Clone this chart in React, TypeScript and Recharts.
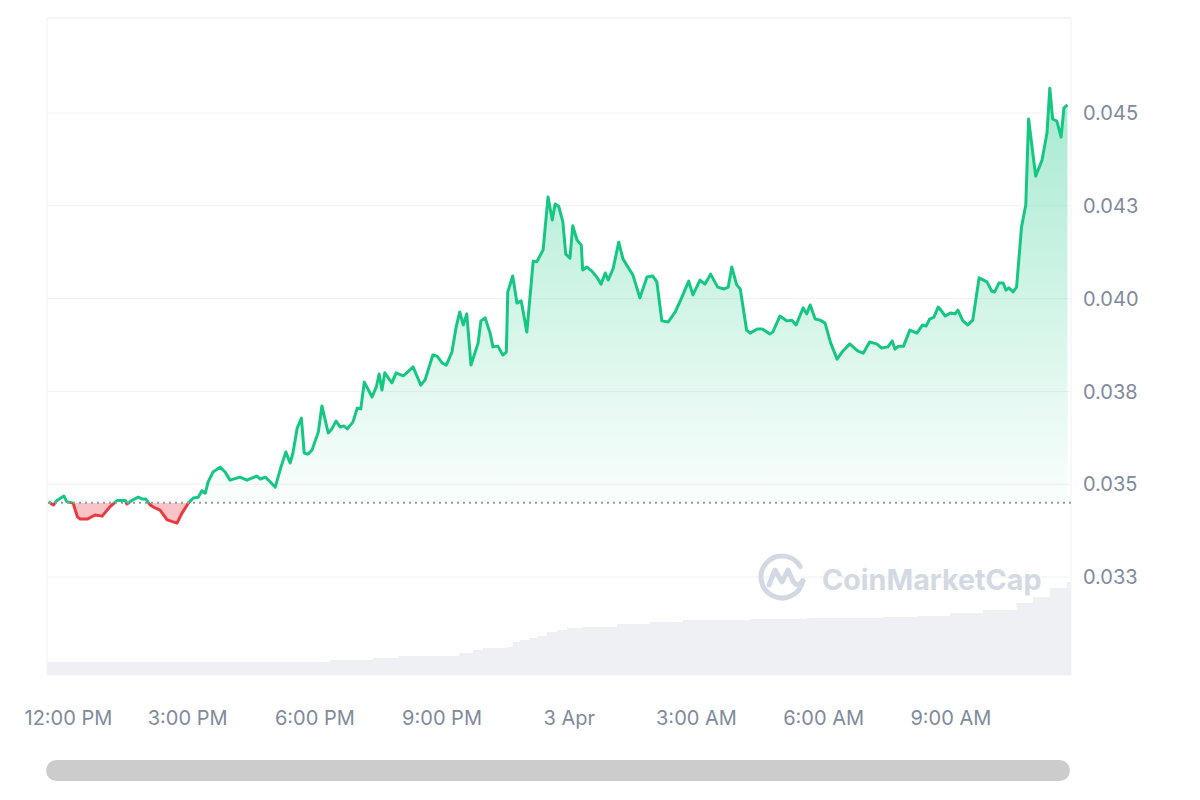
import React from 'react';
import {
  ComposedChart,
  Area,
  XAxis,
  YAxis,
  CartesianGrid,
  ReferenceLine,
} from 'recharts';

// minutes from 12:00 PM (2 Apr)
const times = [
  -17, -10, -5, 5, 9, 18, 24, 28, 38, 49,
  59, 70, 80, 92, 94, 101, 110, 116, 121, 127,
  134, 141, 151, 165, 172, 181, 188, 195, 200, 205,
  209, 216, 226, 233, 240, 254, 264, 278, 283, 290,
  297, 304, 312, 319, 325, 329, 335, 341, 345, 350,
  356, 365, 370, 379, 384, 390, 396, 401, 406, 414,
  420, 425, 430, 441, 447, 451, 455, 459, 469, 475,
  485, 490, 499, 510, 516, 527, 533, 540, 546, 554,
  560, 565, 570, 575, 581, 591, 595, 601, 608, 612,
  619, 626, 631, 633, 640, 646, 652, 660, 669, 674,
  683, 690, 696, 700, 705, 711, 715, 721, 725, 731,
  737, 739, 745, 752, 759, 765, 771, 775, 782, 790,
  796, 803, 810, 820, 830, 838, 844, 851, 860, 870,
  879, 889, 895, 905, 912, 920, 930, 939, 945, 950,
  957, 962, 971, 976, 986, 993, 1004, 1008, 1018, 1028,
  1035, 1041, 1051, 1056, 1061, 1068, 1075, 1082, 1090, 1099,
  1106, 1117, 1128, 1136, 1145, 1155, 1162, 1171, 1177, 1181,
  1186, 1193, 1202, 1212, 1220, 1225, 1230, 1236, 1242, 1246,
  1252, 1259, 1266, 1270, 1277, 1284, 1291, 1300, 1311, 1318,
  1322, 1328, 1334, 1338, 1342, 1348, 1353, 1360, 1366, 1370,
  1380, 1389, 1396, 1400, 1404, 1410, 1416, 1420, 1425,
];

const prices = [
  0.03453, 0.03444, 0.03456, 0.03468, 0.03453, 0.03449, 0.03412, 0.03406, 0.03406, 0.03417,
  0.03414, 0.03439, 0.03456, 0.03456, 0.03447, 0.03456, 0.03465, 0.0346, 0.0346, 0.03444,
  0.03436, 0.0343, 0.03404, 0.03395, 0.03422, 0.03449, 0.03463, 0.03465, 0.03482, 0.03476,
  0.03506, 0.03533, 0.03546, 0.03533, 0.03511, 0.03519, 0.03511, 0.03522, 0.03514, 0.03519,
  0.03506, 0.03492, 0.03546, 0.03587, 0.03557, 0.03584, 0.03651, 0.03678, 0.03584, 0.03581,
  0.03592, 0.03641, 0.03711, 0.03638, 0.03649, 0.0367, 0.03654, 0.03657, 0.03649, 0.03668,
  0.03705, 0.03703, 0.03775, 0.03735, 0.03762, 0.03797, 0.03754, 0.038, 0.03773, 0.038,
  0.03792, 0.038, 0.03816, 0.03767, 0.03781, 0.03848, 0.03845, 0.03827, 0.03821, 0.03856,
  0.03924, 0.03964, 0.03929, 0.03959, 0.03821, 0.0388, 0.0394, 0.03948, 0.03907, 0.0387,
  0.03872, 0.03848, 0.03856, 0.04018, 0.04061, 0.03988, 0.03994, 0.0391, 0.04101, 0.04099,
  0.04131, 0.04274, 0.04212, 0.04255, 0.04249, 0.04206, 0.0412, 0.04109, 0.04196, 0.04158,
  0.04144, 0.04077, 0.04085, 0.04074, 0.04058, 0.04039, 0.04069, 0.0405, 0.0408, 0.04152,
  0.04107, 0.04085, 0.04064, 0.04002, 0.04058, 0.04061, 0.04045, 0.0394, 0.03937, 0.03964,
  0.04002, 0.04047, 0.0401, 0.0405, 0.04039, 0.04066, 0.04031, 0.04026, 0.04031, 0.04085,
  0.04037, 0.04026, 0.03915, 0.03907, 0.03918, 0.03918, 0.03905, 0.0391, 0.03953, 0.0394,
  0.03942, 0.03929, 0.03975, 0.03959, 0.03983, 0.03945, 0.03942, 0.03934, 0.0388, 0.03837,
  0.03856, 0.03878, 0.03859, 0.03853, 0.03883, 0.03878, 0.03867, 0.0387, 0.03886, 0.03864,
  0.03872, 0.03872, 0.03915, 0.03907, 0.03929, 0.03926, 0.03945, 0.0395, 0.03977, 0.03969,
  0.03953, 0.03961, 0.03959, 0.03969, 0.0394, 0.03929, 0.03942, 0.04056, 0.04045, 0.0402,
  0.04018, 0.04042, 0.04042, 0.04023, 0.04029, 0.04018, 0.04031, 0.04193, 0.04252, 0.04484,
  0.0433, 0.04373, 0.04446, 0.04567, 0.04484, 0.04478, 0.04435, 0.04514, 0.04522,
];

// rolling volume, thousands
const volTimes = [
  -19, 381, 442, 478, 565, 584, 598, 632, 640, 650,
  664, 674, 688, 703, 717, 739, 788, 834, 881, 976,
  1056, 1164, 1212, 1259, 1305, 1353, 1376, 1400, 1424, 1430,
];
const volumes = [
  130, 150, 170, 190, 220, 250, 270, 280, 330, 350,
  370, 390, 430, 450, 470, 480, 510, 530, 550, 560,
  570, 580, 590, 620, 650, 720, 780, 870, 930, 940,
];

const baseline = 0.0345;

const xTicks = [0, 180, 360, 540, 720, 900, 1080, 1260];
const xTickLabels = ['12:00 PM', '3:00 PM', '6:00 PM', '9:00 PM', '3 Apr', '3:00 AM', '6:00 AM', '9:00 AM'];
const yTicks = [0.0325, 0.035, 0.0375, 0.04, 0.0425, 0.045];
const yTickLabels = ['0.033', '0.035', '0.038', '0.040', '0.043', '0.045'];

const GREEN = '#16c784';
const RED = '#ea3943';
const TEXT = '#808a9d';
const GRID = '#eff1f4';

type Row = { t: number; price?: number; vol?: number };

const rowMap = new Map<number, Row>();
times.forEach((t, i) => {
  rowMap.set(t, { ...(rowMap.get(t) || { t }), price: prices[i] });
});
volTimes.forEach((t, i) => {
  rowMap.set(t, { ...(rowMap.get(t) || { t }), vol: volumes[i] });
});
const rows = Array.from(rowMap.values()).sort((a, b) => a.t - b.t);

const pMax = Math.max(...prices);
const pMin = Math.min(...prices);
const splitOff = (pMax - baseline) / (pMax - pMin);

const X_DOMAIN: [number, number] = [-19, 1430];
const Y_DOMAIN: [number, number] = [0.02986, 0.04756];

const XTick = (props: any) => {
  const { x, y, payload } = props;
  const idx = xTicks.indexOf(payload.value);
  // first label is nudged inward like the original
  const shift = idx === 0 ? 8 : 0;
  return (
    <text x={x + shift} y={y} dy="0.71em" textAnchor="middle" fill={TEXT} fontSize={20} fontFamily="Inter">
      {xTickLabels[idx]}
    </text>
  );
};

const Watermark = () => (
  <svg style={{ position: 'absolute', left: 756, top: 551, pointerEvents: 'none' }} width={300} height={54}>
    <g fill="none" stroke="#d3d9e3" strokeWidth={5} strokeLinecap="round" strokeLinejoin="round">
      <path d="M 46.7 29.6 A 21 21 0 1 1 44.2 15.5" />
      <path d="M 13 34 L 19 19 L 26 31 L 32 19 L 37 30 Q 41 37 47 30" />
    </g>
    <text x={66} y={39} fontSize={28.7} fontWeight={700} fontFamily="Inter" fill="#d3d9e3">
      CoinMarketCap
    </text>
  </svg>
);

export default function App() {
  return (
    <div style={{ position: 'absolute', left: 0, top: 0, width: 1200, height: 800, background: '#fff' }}>
      <ComposedChart width={1200} height={800} data={rows} margin={{ top: 18, right: 0, bottom: 65, left: 47 }}>
        <defs>
          <linearGradient id="priceStroke" x1="0" y1="0" x2="0" y2="1">
            <stop offset={splitOff} stopColor={GREEN} />
            <stop offset={splitOff} stopColor={RED} />
          </linearGradient>
          <linearGradient id="priceFill" x1="0" y1="0" x2="0" y2="1">
            <stop offset={0} stopColor={GREEN} stopOpacity={0.38} />
            <stop offset={splitOff} stopColor={GREEN} stopOpacity={0.02} />
            <stop offset={splitOff} stopColor={RED} stopOpacity={0.3} />
            <stop offset={1} stopColor={RED} stopOpacity={0.3} />
          </linearGradient>
        </defs>
        <CartesianGrid vertical={false} stroke={GRID} />
        <XAxis
          type="number"
          dataKey="t"
          domain={X_DOMAIN}
          ticks={xTicks}
          allowDataOverflow
          axisLine={false}
          tickLine={false}
          tickSize={0}
          tickMargin={36}
          height={60}
          tick={<XTick />}
          interval={0}
        />
        <YAxis
          orientation="right"
          domain={Y_DOMAIN}
          ticks={yTicks}
          allowDataOverflow
          axisLine={false}
          tickLine={false}
          tickSize={0}
          tickMargin={12}
          width={129}
          interval={0}
          tickFormatter={(v: number) => yTickLabels[yTicks.indexOf(v)] ?? ''}
          tick={{ fill: TEXT, fontSize: 20, fontFamily: 'Inter' }}
        />
        <YAxis yAxisId="vol" hide domain={[0, 6570]} />
        <ReferenceLine y={Y_DOMAIN[1]} stroke={GRID} />
        <ReferenceLine x={X_DOMAIN[0]} stroke={GRID} />
        <ReferenceLine x={X_DOMAIN[1]} stroke={GRID} />
        <Area
          yAxisId="vol"
          type="stepAfter"
          dataKey="vol"
          stroke="none"
          fill="#eef0f4"
          fillOpacity={1}
          connectNulls
          dot={false}
          activeDot={false}
          isAnimationActive={false}
        />
        <Area
          type="linear"
          dataKey="price"
          baseValue={baseline}
          stroke="url(#priceStroke)"
          strokeWidth={3}
          strokeLinejoin="round"
          fill="url(#priceFill)"
          fillOpacity={1}
          connectNulls
          dot={false}
          activeDot={false}
          isAnimationActive={false}
        />
        <ReferenceLine y={baseline} stroke="#9a9a9a" strokeWidth={2} strokeDasharray="2 4" />
      </ComposedChart>
      <Watermark />
      <div
        style={{
          position: 'absolute',
          left: 46,
          top: 760,
          width: 1024,
          height: 21,
          borderRadius: 11,
          background: '#cccccc',
        }}
      />
    </div>
  );
}
